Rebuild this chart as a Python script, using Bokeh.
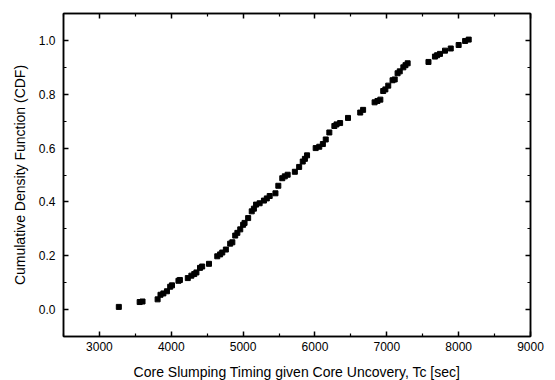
from bokeh.plotting import figure
from bokeh.models import LinearAxis, FixedTicker, Range1d, ColumnDataSource
from bokeh.embed import file_html
from bokeh.resources import INLINE

# Core slumping time samples (sec) and their cumulative probability
time_sec = [3270, 3560, 3600, 3810, 3850, 3890, 3940, 3985, 4010, 4100,
            4120, 4230, 4280, 4320, 4350, 4400, 4430, 4525, 4640, 4680,
            4710, 4760, 4820, 4850, 4890, 4920, 4960, 5000, 5020, 5070,
            5120, 5150, 5180, 5230, 5290, 5330, 5370, 5450, 5490, 5545,
            5580, 5620, 5720, 5780, 5830, 5860, 5890, 6010, 6060, 6110,
            6150, 6200, 6270, 6300, 6350, 6460, 6630, 6670, 6830, 6870,
            6910, 6950, 6980, 7020, 7080, 7110, 7150, 7180, 7230, 7260,
            7290, 7580, 7670, 7700, 7740, 7810, 7890, 8000, 8090, 8140]
cdf = [0.010, 0.028, 0.030, 0.038, 0.055, 0.060, 0.068, 0.085, 0.090, 0.107,
       0.110, 0.117, 0.126, 0.132, 0.138, 0.155, 0.160, 0.170, 0.198, 0.205,
       0.212, 0.223, 0.245, 0.250, 0.275, 0.285, 0.298, 0.315, 0.322, 0.340,
       0.365, 0.375, 0.390, 0.395, 0.405, 0.413, 0.422, 0.432, 0.460, 0.488,
       0.495, 0.501, 0.512, 0.530, 0.550, 0.560, 0.573, 0.600, 0.605, 0.615,
       0.632, 0.658, 0.682, 0.688, 0.693, 0.712, 0.732, 0.742, 0.770, 0.775,
       0.780, 0.812, 0.818, 0.832, 0.852, 0.855, 0.878, 0.885, 0.900, 0.908,
       0.915, 0.920, 0.940, 0.945, 0.950, 0.962, 0.970, 0.983, 0.998, 1.003]

x_major = [3000, 4000, 5000, 6000, 7000, 8000, 9000]
x_minor = [2500, 3500, 4500, 5500, 6500, 7500, 8500]
y_major = [0.0, 0.2, 0.4, 0.6, 0.8, 1.0]
y_minor = [-0.1, 0.1, 0.3, 0.5, 0.7, 0.9, 1.1]
x_labels = {v: str(v) for v in x_major}
y_labels = {v: f"{v:.1f}" for v in y_major}

FONT = "Liberation Sans"

p = figure(width=555, height=384, output_backend="svg", toolbar_location=None,
           frame_width=467, frame_height=323,
           x_range=Range1d(2500, 9000), y_range=Range1d(-0.1, 1.1),
           x_axis_label="Core Slumping Timing given Core Uncovery, Tc [sec]",
           y_axis_label="Cumulative Density Function (CDF)",
           min_border_left=63, min_border_right=25, min_border_top=13, min_border_bottom=48)
p.grid.visible = False
p.outline_line_color = "black"
p.outline_line_width = 1.5

src = ColumnDataSource(dict(x=time_sec, y=cdf))
p.scatter("x", "y", source=src, marker="square", size=5, color="black")

top = LinearAxis()
right = LinearAxis()
p.add_layout(top, "above")
p.add_layout(right, "right")

for ax in p.xaxis:
    ax.ticker = FixedTicker(ticks=x_major, minor_ticks=x_minor)
for ax in p.yaxis:
    ax.ticker = FixedTicker(ticks=y_major, minor_ticks=y_minor)

for ax in p.axis:
    ax.major_tick_in = 5
    ax.major_tick_out = 0
    ax.minor_tick_in = 3
    ax.minor_tick_out = 0
    ax.axis_line_width = 1.5
    ax.major_tick_line_width = 1.5
    ax.minor_tick_line_width = 1.2
    ax.major_label_text_font = FONT
    ax.major_label_text_font_size = "12px"
    ax.major_label_text_color = "black"
    ax.axis_label_text_font = FONT
    ax.axis_label_text_font_size = "14px"
    ax.axis_label_text_font_style = "normal"
    ax.axis_label_text_color = "black"

p.xaxis[1].major_label_overrides = x_labels
p.yaxis[0].major_label_overrides = y_labels
top.major_label_overrides = {v: "" for v in x_major}
right.major_label_overrides = {v: "" for v in y_major}
for ax in (top, right):
    ax.major_label_standoff = 0
    ax.axis_label = None

p.xaxis[1].major_label_standoff = 5
p.xaxis[1].axis_label_standoff = 10
p.yaxis[0].major_label_standoff = 8
p.yaxis[0].axis_label_standoff = 8

html = file_html(p, INLINE)
html = html.replace("<head>", "<head><style>html,body{overflow:hidden}</style>", 1)
open("out.html", "w").write(html)
